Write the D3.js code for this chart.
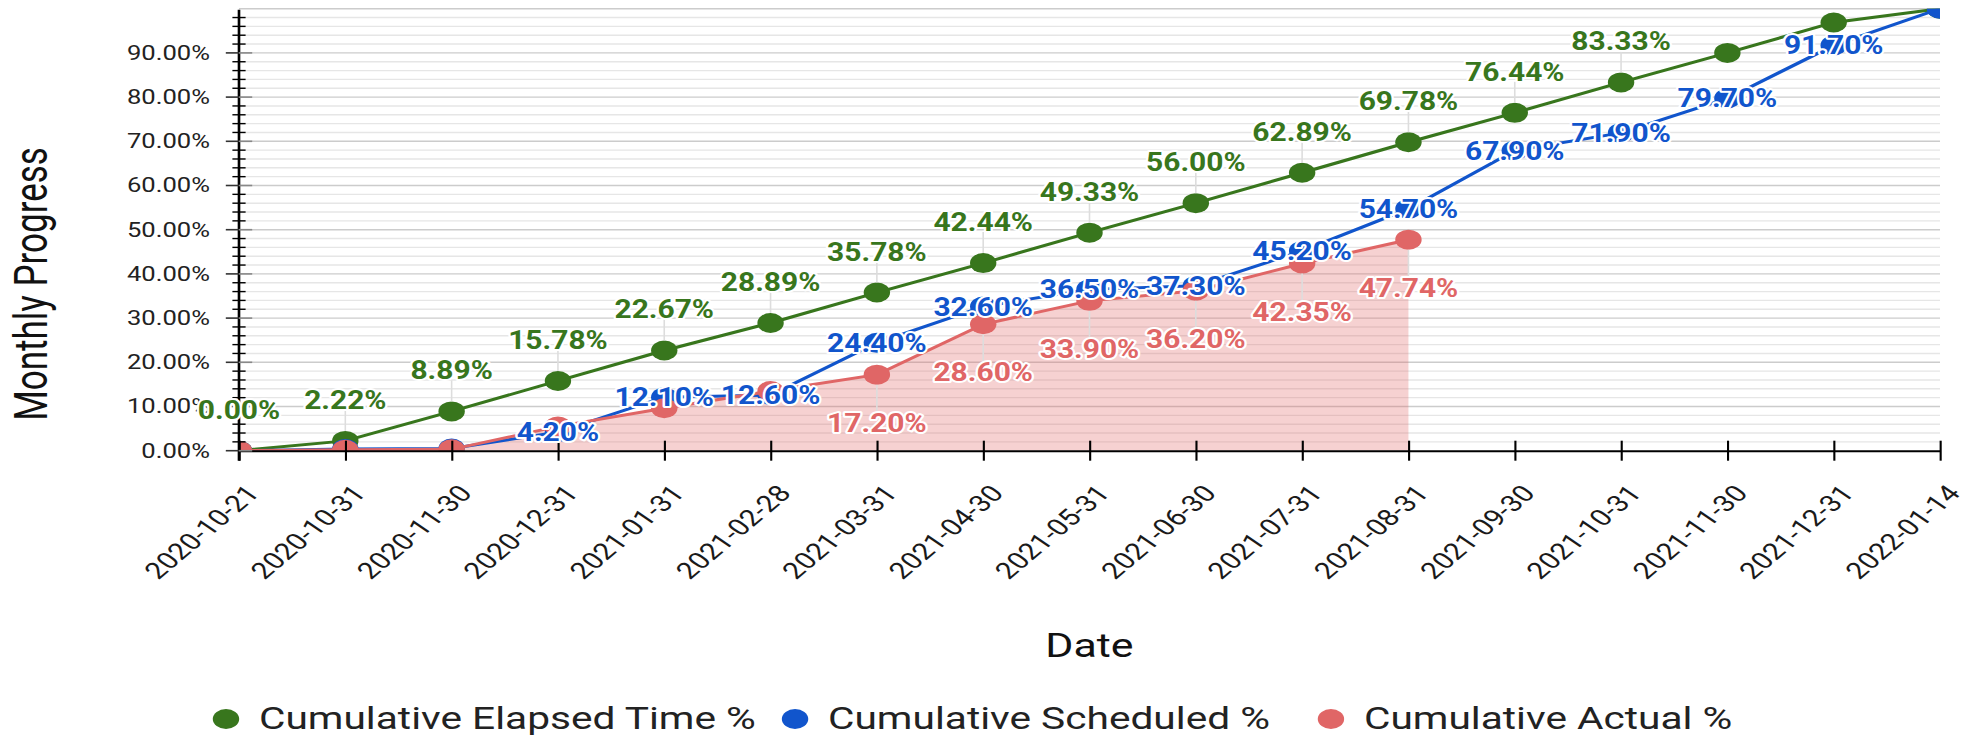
<!DOCTYPE html>
<meta charset="utf-8">
<head>
  <title>Monthly Progress</title>
</head>
<style>
  body { margin: 0; background: #fff; }
  svg text { font-family: Roboto, "Noto Sans", sans-serif; }
  .lbl { font-weight: bold; font-size: 25.5px; text-anchor: middle;
         paint-order: stroke; stroke: #fff; stroke-width: 4px; stroke-linejoin: round; }
</style>

<script src="https://d3js.org/d3.v7.min.js"></script>

<div id="chart"></div>

<script>
  // data
  var dates = ["2020-10-21", "2020-10-31", "2020-11-30", "2020-12-31", "2021-01-31", "2021-02-28",
    "2021-03-31", "2021-04-30", "2021-05-31", "2021-06-30", "2021-07-31", "2021-08-31",
    "2021-09-30", "2021-10-31", "2021-11-30", "2021-12-31", "2022-01-14"];
  var elapsed = [0, 2.22, 8.89, 15.78, 22.67, 28.89, 35.78, 42.44, 49.33, 56.00, 62.89, 69.78,
    76.44, 83.33, 90.00, 96.89, 100];
  var scheduled = [0, 0.4, 0.5, 4.20, 12.10, 12.60, 24.40, 32.60, 36.50, 37.30, 45.20, 54.70,
    67.90, 71.90, 79.70, 91.70, 100];
  var actual = [0, 0.2, 0.3, 5.5, 9.6, 13.5, 17.20, 28.60, 33.90, 36.20, 42.35, 47.74];
  // which point labels are drawn (the rest are hidden in the original)
  var elapsedHidden = [14, 15, 16];
  var scheduledHidden = [0, 1, 2, 16];
  var actualHidden = [0, 1, 2, 3, 4, 5];
  var legendNames = ["Cumulative Elapsed Time %", "Cumulative Scheduled %", "Cumulative Actual %"];
  var colors = ["#38761d", "#1155cc", "#e06666"];

  // picture is stretched sideways, so draw in a narrower box and let it stretch
  var W = 1984, H = 739, sx = 1.32;
  var vw = W / sx;
  var pLeft = 239 / sx, pRight = 1940 / sx, pTop = 8.7, pBottom = 450.7;

  var svg = d3.select("#chart").append("svg")
    .attr("width", W)
    .attr("height", H)
    .attr("viewBox", "0 0 " + vw + " " + H)
    .attr("preserveAspectRatio", "none");

  var x = d3.scalePoint().domain(dates).range([pLeft, pRight]);
  var y = d3.scaleLinear().domain([0, 100]).range([pBottom, pTop]);

  svg.append("clipPath").attr("id", "plot")
    .append("rect")
    .attr("x", pLeft).attr("y", pTop)
    .attr("width", pRight - pLeft).attr("height", pBottom - pTop);

  // gridlines
  svg.append("g").selectAll("line")
    .data(d3.range(2, 101, 2))
    .enter().append("line")
    .attr("x1", pLeft).attr("x2", pRight)
    .attr("y1", function(d) { return y(d); })
    .attr("y2", function(d) { return y(d); })
    .attr("stroke", function(d) { return d % 10 == 0 ? "#cccccc" : "#e6e6e6"; })
    .attr("stroke-width", 1.4);

  var plot = svg.append("g").attr("clip-path", "url(#plot)");

  // area under actual
  plot.append("path")
    .datum(actual)
    .attr("fill", "#e06666")
    .attr("fill-opacity", 0.3)
    .attr("d", d3.area()
      .x(function(d, i) { return x(dates[i]); })
      .y0(pBottom)
      .y1(function(d) { return y(d); }));

  // leader lines for labels above / below
  var leaders = svg.append("g").attr("stroke", "#dddddd").attr("stroke-width", 1.2);
  elapsed.forEach(function(v, i) {
    if (elapsedHidden.indexOf(i) >= 0) return;
    leaders.append("line").attr("x1", x(dates[i])).attr("x2", x(dates[i]))
      .attr("y1", y(v) - 10).attr("y2", y(v) - 31);
  });
  actual.forEach(function(v, i) {
    if (actualHidden.indexOf(i) >= 0) return;
    leaders.append("line").attr("x1", x(dates[i])).attr("x2", x(dates[i]))
      .attr("y1", y(v) + 10).attr("y2", y(v) + 38);
  });

  var series = [elapsed, scheduled, actual];
  series.forEach(function(vals, k) {
    plot.append("path")
      .datum(vals)
      .attr("fill", "none")
      .attr("stroke", colors[k])
      .attr("stroke-width", 3)
      .attr("d", d3.line()
        .x(function(d, i) { return x(dates[i]); })
        .y(function(d) { return y(d); }));
    plot.append("g").selectAll("circle")
      .data(vals)
      .enter().append("circle")
      .attr("cx", function(d, i) { return x(dates[i]); })
      .attr("cy", function(d) { return y(d); })
      .attr("r", 10)
      .attr("fill", colors[k]);
  });

  // x axis
  var xg = svg.append("g")
    .attr("transform", "translate(0," + pBottom + ")")
    .call(d3.axisBottom(x).tickSize(10).tickSizeOuter(0));
  xg.select(".domain").attr("stroke", "#000").attr("stroke-width", 2);
  xg.selectAll(".tick line").attr("y1", -10).attr("y2", 10).attr("stroke", "#000").attr("stroke-width", 1.6);
  xg.selectAll(".tick text")
    .attr("y", 0).attr("dy", 0)
    .attr("transform", "translate(16,43.5) rotate(-48)")
    .style("text-anchor", "end")
    .style("font-size", "23px")
    .attr("fill", "#1a1a1a");

  // y axis
  var yg = svg.append("g")
    .attr("transform", "translate(" + pLeft + ",0)");
  yg.append("line").attr("x1", 0).attr("x2", 0).attr("y1", pTop + 1).attr("y2", pBottom + 10)
    .attr("stroke", "#000").attr("stroke-width", 2);
  yg.selectAll(".minor")
    .data(d3.range(0, 100, 2).filter(function(d) { return d % 10 != 0; }))
    .enter().append("line")
    .attr("x1", -5).attr("x2", 5)
    .attr("y1", function(d) { return y(d); })
    .attr("y2", function(d) { return y(d); })
    .attr("stroke", "#000").attr("stroke-width", 1.4);
  var major = d3.range(0, 100, 10);
  yg.selectAll(".majL").data(major).enter().append("line")
    .attr("x1", -10).attr("x2", 0)
    .attr("y1", function(d) { return y(d); }).attr("y2", function(d) { return y(d); })
    .attr("stroke", "#333").attr("stroke-width", 1.6);
  yg.selectAll(".majR").data(major).enter().append("line")
    .attr("x1", 0).attr("x2", 10)
    .attr("y1", function(d) { return y(d); }).attr("y2", function(d) { return y(d); })
    .attr("stroke", "#888").attr("stroke-width", 1.6);
  yg.selectAll(".ylab").data(major).enter().append("text")
    .attr("x", -22)
    .attr("y", function(d) { return y(d) + 7; })
    .style("text-anchor", "end")
    .style("font-size", "19.4px")
    .attr("fill", "#222")
    .text(function(d) { return d3.format(".2%")(d / 100); });

  // axis titles
  svg.append("text")
    .attr("transform", "translate(35.4,284) rotate(-90)")
    .style("text-anchor", "middle")
    .style("font-size", "35px")
    .attr("fill", "#111")
    .text("Monthly Progress");
  svg.append("text")
    .attr("x", (pLeft + pRight) / 2)
    .attr("y", 656.7)
    .style("text-anchor", "middle")
    .style("font-size", "32.5px")
    .attr("fill", "#111")
    .text("Date");

  // point labels (a touch narrower than the rest of the text)
  var fmt = function(v) { return v.toFixed(2) + "%"; };
  var labels = svg.append("g");
  function addLabels(vals, hidden, color, dy) {
    vals.forEach(function(v, i) {
      if (hidden.indexOf(i) >= 0) return;
      labels.append("text")
        .attr("class", "lbl")
        .attr("transform", "translate(" + x(dates[i]) + "," + (y(v) + dy) + ") scale(0.89,1)")
        .attr("fill", color)
        .text(fmt(v));
    });
  }
  addLabels(elapsed, elapsedHidden, colors[0], -32);
  addLabels(scheduled, scheduledHidden, colors[1], 9);
  addLabels(actual, actualHidden, colors[2], 57);

  // legend
  var legX = [171.2, 602.3, 1008.3];
  var leg = svg.append("g");
  legendNames.forEach(function(name, k) {
    leg.append("circle")
      .attr("cx", legX[k]).attr("cy", 719).attr("r", 10)
      .attr("fill", colors[k]);
    leg.append("text")
      .attr("x", legX[k] + 25).attr("y", 729.5)
      .style("font-size", "30.8px")
      .attr("fill", "#222")
      .text(name);
  });
</script>
